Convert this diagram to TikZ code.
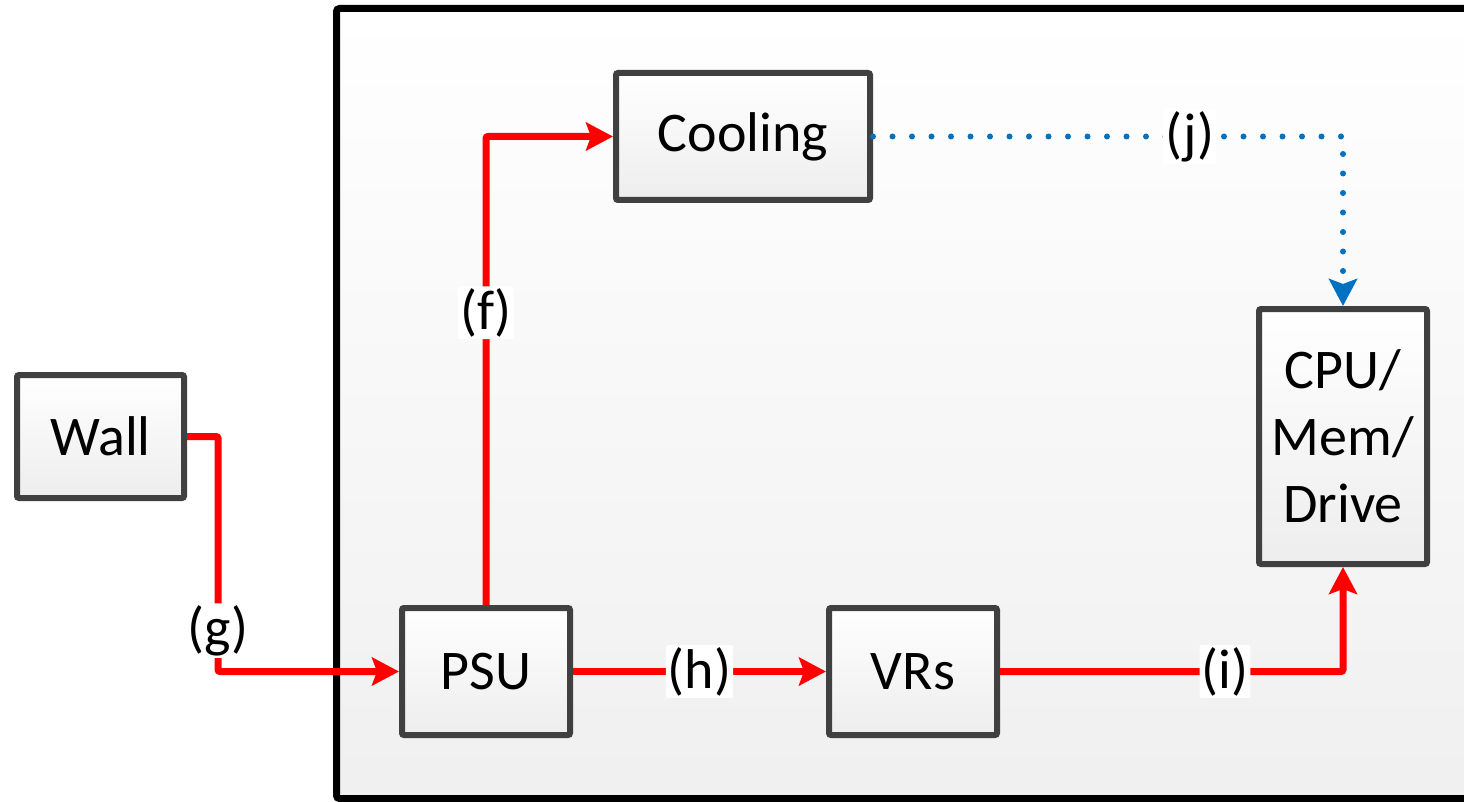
\documentclass[tikz,border=0pt]{standalone}
\usepackage{fontspec}
\setmainfont{Carlito}
\usetikzlibrary{arrows.meta}
\definecolor{boxline}{HTML}{404040}
\definecolor{pwred}{HTML}{FF0000}
\definecolor{cblue}{HTML}{0070C0}
\tikzset{
  blk/.style={draw=boxline, line width=6pt, rounded corners=2pt, top color=white, bottom color=black!7,
    inner sep=0pt, align=center, font=\fontsize{56}{67}\selectfont},
  pw/.style={draw=pwred, line width=7pt, rounded corners=2pt, -{Stealth[length=27pt,width=28pt,inset=5pt]}},
  cw/.style={draw=cblue, line width=6pt, line cap=round, dash pattern=on 0pt off 19.5pt,
    -{Stealth[length=27pt,width=28pt,inset=5pt,line cap=butt,sep=0pt]}},
  lbl/.style={fill=white, inner sep=2pt, font=\fontsize{56}{67}\selectfont}
}
\begin{document}
\begin{tikzpicture}[x=1pt,y=-1pt]
\useasboundingbox (0,0) rectangle (1464,802);
\clip (0,0) rectangle (1464,802);
\fill[white] (0,0) rectangle (1464,802);
\draw[line width=7pt, rounded corners=3pt, top color=white, bottom color=black!6] (336.5,8.5) rectangle (1490,798.5);
\node[blk, minimum width=167pt, minimum height=123pt] (wall) at (100.5,436.5) {Wall};
\node[blk, minimum width=254pt, minimum height=127pt] (cool) at (743,136.5) {Cooling};
\node[blk, minimum width=168pt, minimum height=127pt] (psu) at (486,671.5) {PSU};
\node[blk, minimum width=168pt, minimum height=127pt] (vrs) at (913,671.5) {VRs};
\node[blk, minimum width=168pt, minimum height=255pt] (cpu) at (1343,436.5) {CPU/\\Mem/\\Drive};
\draw[pw] (wall.east) -- ++(31,0) |- node[lbl, pos=0.413] {(g)} (psu.west);
\draw[pw] (psu.north) |- node[lbl, pos=0.312] {(f)} (cool.west);
\draw[pw] (psu.east) -- node[lbl] {(h)} (vrs.west);
\draw[pw] (vrs.east) -| node[lbl, pos=0.328] {(i)} (cpu.south);
\draw[cw] (cool.east) -| node[lbl, pos=0.337] {(j)} (cpu.north);
\end{tikzpicture}
\end{document}
